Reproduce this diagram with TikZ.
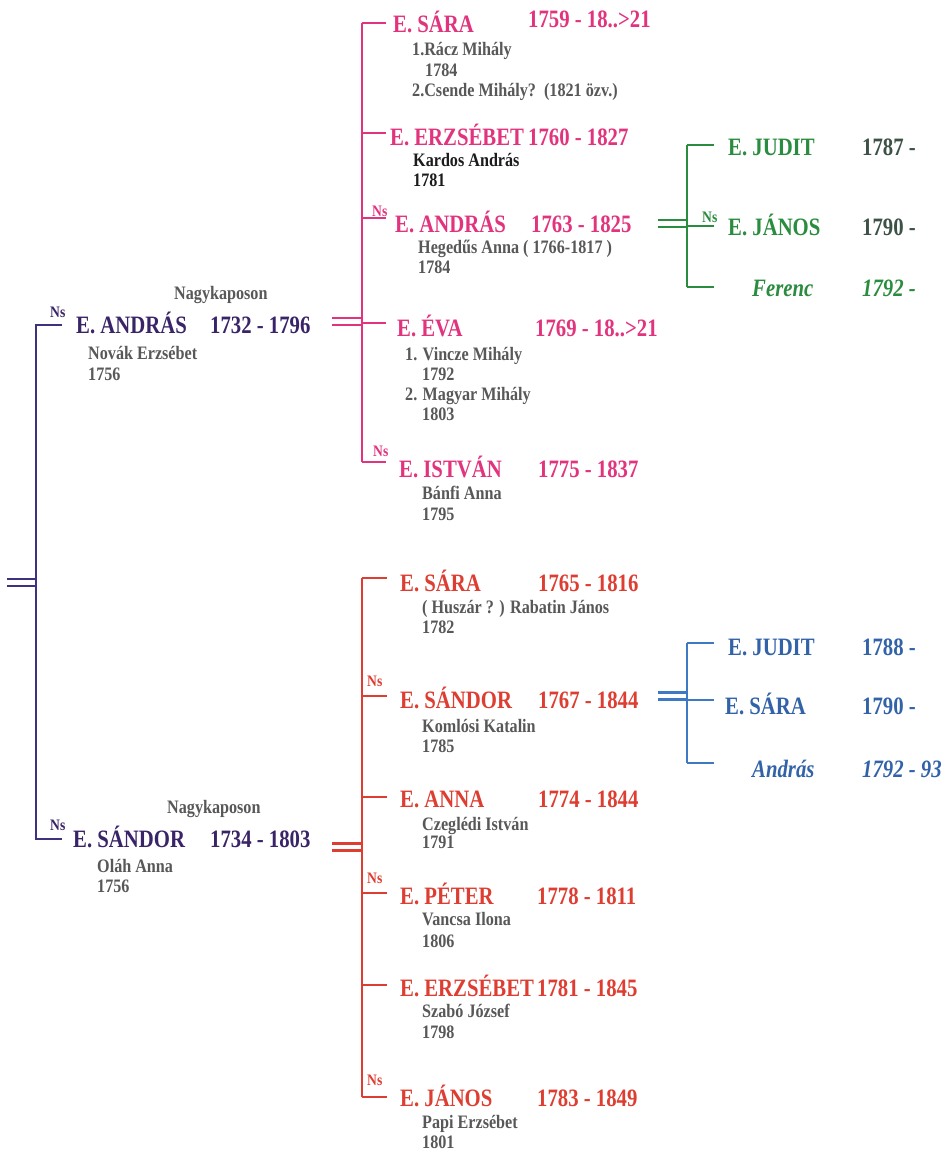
\documentclass[tikz,border=0pt]{standalone}
\usepackage{fontspec}
\setmainfont{Liberation Serif}[FakeStretch=0.85]
\newfontfamily\namefont{Liberation Serif}[FakeStretch=0.83]
\usetikzlibrary{positioning}
\definecolor{rootpurple}{RGB}{58,36,104}
\definecolor{rootline}{RGB}{62,50,128}
\definecolor{famrose}{RGB}{226,52,126}
\definecolor{famred}{RGB}{222,62,50}
\definecolor{famgreen}{RGB}{42,140,62}
\definecolor{famgreenyr}{RGB}{60,82,70}
\definecolor{famblue}{RGB}{62,122,196}
\definecolor{famblue2}{RGB}{50,98,168}
\definecolor{txtgray}{RGB}{88,88,88}
\definecolor{txtdark}{RGB}{28,28,28}
\tikzset{
  pname/.style={anchor=base west,inner sep=0pt,font=\namefont\fontsize{25}{26}\selectfont\bfseries},
  pitname/.style={pname,font=\namefont\fontsize{25}{26}\selectfont\bfseries\itshape},
  pspouse/.style={anchor=base west,inner sep=0pt,font=\fontsize{19}{20}\selectfont\bfseries,text=txtgray},
  pns/.style={anchor=base west,inner sep=0pt,font=\fontsize{16}{16}\selectfont\bfseries},
  tline/.style={line width=2.5pt},
  dline/.style={line width=2.5pt,double,double distance=4.5pt},
}

\begin{document}
\begin{tikzpicture}[x=1pt,y=-1pt]
  \fill[white] (0,0) rectangle (947,1150);
  \useasboundingbox (0,0) rectangle (947,1150);

  % first generation
  \node[pns,text=rootpurple] (ns0a) at (50,317) {Ns};
  \node[pspouse] (place0a) at (174,299) {Nagykaposon};
  \node[pname,text=rootpurple] (andras0) at (76,333) {E. ANDRÁS};
  \node[pname,text=rootpurple] (andras0y) at (210,333) {1732 - 1796};
  \node[pspouse] (andras0s) at (88,359) {Novák Erzsébet};
  \node[pspouse] (andras0m) at (88,380) {1756};

  \node[pns,text=rootpurple] (ns0b) at (50,830) {Ns};
  \node[pspouse] (place0b) at (167,813) {Nagykaposon};
  \node[pname,text=rootpurple] (sandor0) at (73,847) {E. SÁNDOR};
  \node[pname,text=rootpurple] (sandor0y) at (210,847) {1734 - 1803};
  \node[pspouse] (sandor0s) at (97,872) {Oláh Anna};
  \node[pspouse] (sandor0m) at (97,892) {1756};

  \coordinate (rfree) at (7,582.5);
  \coordinate (rjoin) at (36,582.5);
  \coordinate (rtop) at (36,325);
  \coordinate (rbot) at (36,839);
  \coordinate (rtope) at (62,325);
  \coordinate (rbote) at (62,839);
  \draw[dline,rootline] (rfree) -- (rjoin);
  \draw[tline,rootline] (rtope) -- (rtop) -- (rbot) -- (rbote);

  % children of Andras
  \node[pname,text=famrose] (msara) at (393,33) {E. SÁRA};
  \node[pname,text=famrose] (msaray) at (528,28) {1759 - 18..>21};
  \node[pspouse] (msaras1) at (412,56) {1.Rácz Mihály};
  \node[pspouse] (msaram1) at (425,77) {1784};
  \node[pspouse] (msaras2) at (412,97) {2.Csende Mihály?\ \ (1821 özv.)};

  \node[pname,text=famrose] (merzs) at (390,146) {E. ERZSÉBET};
  \node[pname,text=famrose] (merzsy) at (528,146) {1760 - 1827};
  \node[pspouse,text=txtdark] (merzss) at (413,167) {Kardos András};
  \node[pspouse,text=txtdark] (merzsm) at (413,187) {1781};

  \node[pns,text=famrose] (nsm1) at (372,217) {Ns};
  \node[pname,text=famrose] (mandras) at (395,233) {E. ANDRÁS};
  \node[pname,text=famrose] (mandrasy) at (531,233) {1763 - 1825};
  \node[pspouse] (mandrass) at (418,254) {Hegedűs Anna ( 1766-1817 )};
  \node[pspouse] (mandrasm) at (418,273) {1784};

  \node[pname,text=famrose] (meva) at (397,336) {E. ÉVA};
  \node[pname,text=famrose] (mevay) at (535,336) {1769 - 18..>21};
  \node[pspouse] (mevas1) at (405,360) {1. Vincze Mihály};
  \node[pspouse] (mevam1) at (422,380) {1792};
  \node[pspouse] (mevas2) at (405,400) {2. Magyar Mihály};
  \node[pspouse] (mevam2) at (422,420) {1803};

  \node[pns,text=famrose] (nsm2) at (373,456) {Ns};
  \node[pname,text=famrose] (mistvan) at (399,477) {E. ISTVÁN};
  \node[pname,text=famrose] (mistvany) at (538,477) {1775 - 1837};
  \node[pspouse] (mistvans) at (422,499) {Bánfi Anna};
  \node[pspouse] (mistvanm) at (422,520) {1795};

  \coordinate (mfree) at (332,321.5);
  \coordinate (mjoin) at (362,321.5);
  \draw[dline,famrose] (mfree) -- (mjoin);
  \foreach \n/\y in {1/23,2/133,3/218,4/323,5/462} {
    \coordinate (mj\n) at (362,\y);
    \coordinate (me\n) at (386,\y);
  }
  \draw[tline,famrose] (mj1) -- (mj5);
  \foreach \n in {1,...,5}
    \draw[tline,famrose] (mj\n) -- (me\n);

  % children of Andras (green)
  \node[pname,text=famgreen] (gjudit) at (728,156) {E. JUDIT};
  \node[pname,text=famgreenyr] (gjudity) at (862,156) {1787 -};
  \node[pns,text=famgreen] (nsg) at (702,223) {Ns};
  \node[pname,text=famgreen] (gjanos) at (728,236) {E. JÁNOS};
  \node[pname,text=famgreenyr] (gjanosy) at (862,236) {1790 -};
  \node[pitname,text=famgreen] (gferenc) at (752,296) {Ferenc};
  \node[pitname,text=famgreen] (gferency) at (862,296) {1792 -};

  \coordinate (gfree) at (658,223.5);
  \coordinate (gjoin) at (687,223.5);
  \draw[dline,famgreen] (gfree) -- (gjoin);
  \foreach \n/\y in {1/145,2/226,3/287} {
    \coordinate (gj\n) at (687,\y);
    \coordinate (ge\n) at (714,\y);
  }
  \draw[tline,famgreen] (gj1) -- (gj3);
  \foreach \n in {1,2,3}
    \draw[tline,famgreen] (gj\n) -- (ge\n);

  % children of Sandor
  \node[pname,text=famred] (rsara) at (400,591) {E. SÁRA};
  \node[pname,text=famred] (rsaray) at (538,591) {1765 - 1816};
  \node[pspouse] (rsaras) at (422,613) {( Huszár ? ) Rabatin János};
  \node[pspouse] (rsaram) at (422,633) {1782};

  \node[pns,text=famred] (nsr1) at (367,686) {Ns};
  \node[pname,text=famred] (rsandor) at (400,708) {E. SÁNDOR};
  \node[pname,text=famred] (rsandory) at (538,708) {1767 - 1844};
  \node[pspouse] (rsandors) at (422,732) {Komlósi Katalin};
  \node[pspouse] (rsandorm) at (422,752) {1785};

  \node[pname,text=famred] (ranna) at (400,807) {E. ANNA};
  \node[pname,text=famred] (rannay) at (538,807) {1774 - 1844};
  \node[pspouse] (rannas) at (422,830) {Czeglédi István};
  \node[pspouse] (rannam) at (422,848) {1791};

  \node[pns,text=famred] (nsr2) at (367,883) {Ns};
  \node[pname,text=famred] (rpeter) at (400,904) {E. PÉTER};
  \node[pname,text=famred] (rpetery) at (537,904) {1778 - 1811};
  \node[pspouse] (rpeters) at (422,925) {Vancsa Ilona};
  \node[pspouse] (rpeterm) at (422,947) {1806};

  \node[pname,text=famred] (rerzs) at (400,996) {E. ERZSÉBET};
  \node[pname,text=famred] (rerzsy) at (537,996) {1781 - 1845};
  \node[pspouse] (rerzss) at (422,1017) {Szabó József};
  \node[pspouse] (rerzsm) at (422,1038) {1798};

  \node[pns,text=famred] (nsr3) at (367,1085) {Ns};
  \node[pname,text=famred] (rjanos) at (400,1106) {E. JÁNOS};
  \node[pname,text=famred] (rjanosy) at (537,1106) {1783 - 1849};
  \node[pspouse] (rjanoss) at (422,1128) {Papi Erzsébet};
  \node[pspouse] (rjanosm) at (422,1148) {1801};

  \coordinate (sfree) at (332,847);
  \coordinate (sjoin) at (362,847);
  \draw[dline,famred] (sfree) -- (sjoin);
  \foreach \n/\y in {1/578,2/696,3/797,4/893,5/985,6/1097} {
    \coordinate (sj\n) at (362,\y);
    \coordinate (se\n) at (387,\y);
  }
  \draw[tline,famred] (sj1) -- (sj6);
  \foreach \n in {1,...,6}
    \draw[tline,famred] (sj\n) -- (se\n);

  % children of Sandor (blue)
  \node[pname,text=famblue2] (bjudit) at (728,655) {E. JUDIT};
  \node[pname,text=famblue2] (bjudity) at (862,655) {1788 -};
  \node[pname,text=famblue2] (bsara) at (725,714) {E. SÁRA};
  \node[pname,text=famblue2] (bsaray) at (862,714) {1790 -};
  \node[pitname,text=famblue2] (bandras) at (752,777) {András};
  \node[pitname,text=famblue2] (bandrasy) at (862,777) {1792 - 93};

  \coordinate (bfree) at (658,696);
  \coordinate (bjoin) at (687,696);
  \draw[dline,famblue] (bfree) -- (bjoin);
  \foreach \n/\y in {1/643,2/700,3/763} {
    \coordinate (bj\n) at (687,\y);
    \coordinate (be\n) at (714,\y);
  }
  \draw[tline,famblue] (bj1) -- (bj3);
  \foreach \n in {1,2,3}
    \draw[tline,famblue] (bj\n) -- (be\n);
\end{tikzpicture}
\end{document}
